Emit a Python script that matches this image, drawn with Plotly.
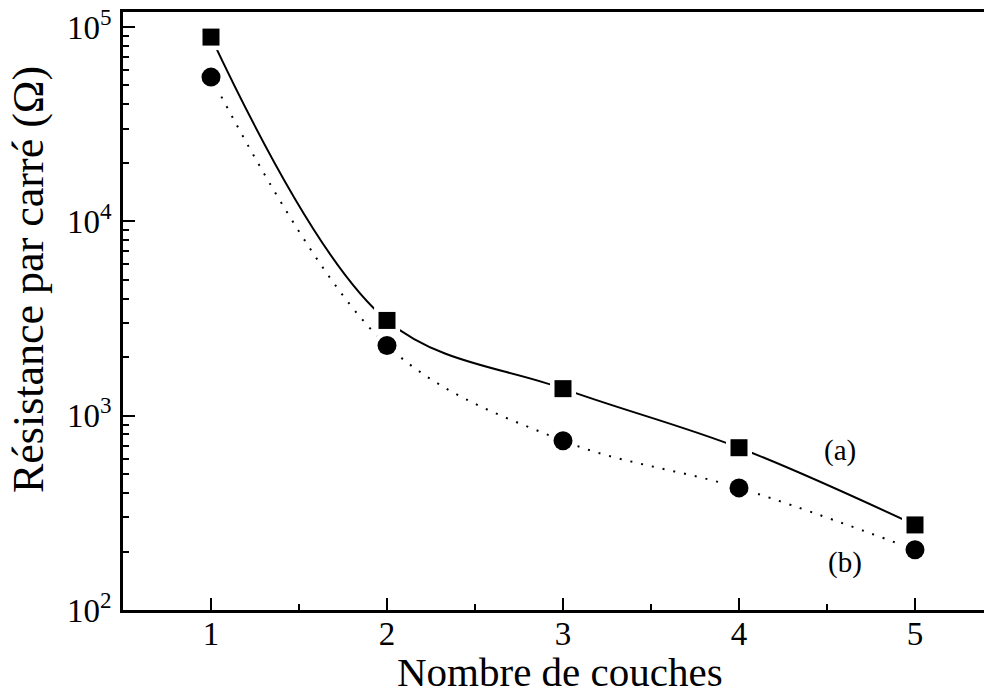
import plotly.graph_objects as go

couches = [1, 2, 3, 4, 5]
resistance_a = [88700, 3090, 1377, 684, 274]
resistance_b = [55200, 2296, 743, 425, 204]
ytick_vals = [100, 1000, 10000, 100000]
ytick_text = ["10<sup>2</sup>", "10<sup>3</sup>", "10<sup>4</sup>", "10<sup>5</sup>"]
xtick_vals = [1, 2, 3, 4, 5]
x_title = "Nombre de couches"
y_title = "Résistance par carré (Ω)"

FONT = "Liberation Serif, Times New Roman, serif"

fig = go.Figure()
# curves
fig.add_trace(go.Scatter(x=couches, y=resistance_a, mode="lines",
                         line=dict(color="black", width=2, shape="spline", smoothing=1.0),
                         hoverinfo="skip", showlegend=False))
fig.add_trace(go.Scatter(x=couches, y=resistance_b, mode="lines",
                         line=dict(color="black", width=2, shape="spline", smoothing=1.0, dash="2px,9px"),
                         hoverinfo="skip", showlegend=False))
# white halos to make gaps around markers
fig.add_trace(go.Scatter(x=couches, y=resistance_a, mode="markers",
                         marker=dict(symbol="square", size=26, color="white"),
                         hoverinfo="skip", showlegend=False))
fig.add_trace(go.Scatter(x=couches, y=resistance_b, mode="markers",
                         marker=dict(symbol="circle", size=28, color="white"),
                         hoverinfo="skip", showlegend=False))
# markers
fig.add_trace(go.Scatter(x=couches, y=resistance_a, mode="markers", name="(a)",
                         marker=dict(symbol="square", size=17, color="black"),
                         showlegend=False))
fig.add_trace(go.Scatter(x=couches, y=resistance_b, mode="markers", name="(b)",
                         marker=dict(symbol="circle", size=19, color="black"),
                         showlegend=False))

fig.add_annotation(x=4.574, y=2.82, xref="x", yref="y", text="(a)", showarrow=False,
                   font=dict(family=FONT, size=29, color="black"))
fig.add_annotation(x=4.602, y=2.247, xref="x", yref="y", text="(b)", showarrow=False,
                   font=dict(family=FONT, size=29, color="black"))

# axis titles
fig.add_annotation(x=0.503, y=-0.104, xref="paper", yref="paper", text=x_title,
                   showarrow=False, xanchor="center", yanchor="middle",
                   font=dict(family=FONT, size=41, color="black"))
fig.add_annotation(x=-0.108, y=0.552, xref="paper", yref="paper", text=y_title,
                   showarrow=False, xanchor="center", yanchor="middle", textangle=-90,
                   font=dict(family=FONT, size=44, color="black"))

fig.update_layout(
    width=984, height=692,
    margin=dict(l=115, r=0, t=4, b=90, autoexpand=False),
    paper_bgcolor="white", plot_bgcolor="white",
    font=dict(family=FONT, size=33, color="black"),
    xaxis=dict(range=[0.5, 5.4375], tickvals=xtick_vals, ticks="inside", ticklen=12,
               tickwidth=2, tickcolor="black", showline=True, linewidth=2.5, linecolor="black",
               mirror=True, showgrid=False, zeroline=False, automargin=False,
               tickfont=dict(family=FONT, size=33), ticklabelstandoff=-7,
               ticklabeloverflow="allow",
               minor=dict(tickvals=[1.5, 2.5, 3.5, 4.5], ticks="inside", ticklen=6,
                          tickwidth=2, tickcolor="black", showgrid=False)),
    yaxis=dict(type="log", range=[2, 5.077], tickvals=ytick_vals, ticktext=ytick_text,
               ticks="inside", ticklen=12, tickwidth=2, tickcolor="black",
               showline=True, linewidth=2.5, linecolor="black", mirror=False,
               showgrid=False, zeroline=False, automargin=False,
               tickfont=dict(family=FONT, size=33), ticklabelstandoff=2,
               ticklabeloverflow="allow",
               minor=dict(tickvals=[m * 10 ** e for e in [2, 3, 4] for m in range(2, 10)],
                          ticks="inside", ticklen=6, tickwidth=2, tickcolor="black", showgrid=False)),
)

fig.write_html("out.html")
